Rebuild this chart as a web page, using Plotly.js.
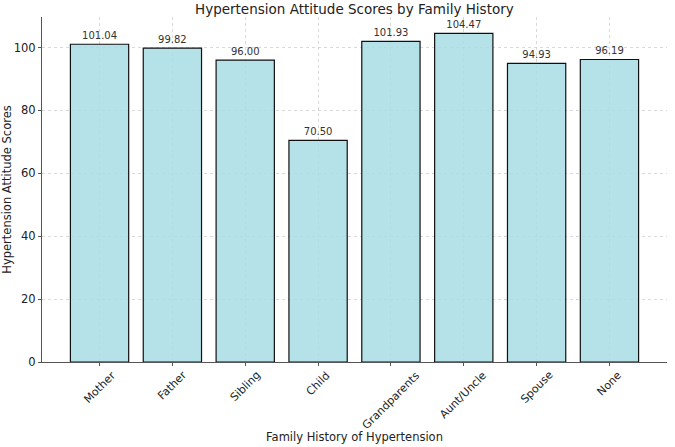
<html>
<head>
    <meta charset="UTF-8">
    <script src="https://cdn.plot.ly/plotly-3.0.1.min.js"></script>
    <style>
        body { margin: 0; background: white; }
        #plot { width: 675px; height: 447px; }
    </style>
</head>
<body>
    <div id="plot"></div>
    <script>
        // family history categories and mean attitude scores
        const categories = ['Mother', 'Father', 'Sibling', 'Child', 'Grandparents', 'Aunt/Uncle', 'Spouse', 'None'];
        const scores = [101.04, 99.82, 96.00, 70.50, 101.93, 104.47, 94.93, 96.19];
        const yTicks = [0, 20, 40, 60, 80, 100];

        const idx = categories.map(function (c, i) { return i; });

        const bars = {
            x: idx,
            y: scores,
            type: 'bar',
            width: 0.8,
            marker: {
                color: 'rgba(168,221,228,0.85)',
                line: { color: '#111', width: 1.2 }
            },
            text: scores.map(function (v) { return v.toFixed(2); }),
            textposition: 'outside',
            textfont: { family: 'DejaVu Sans', size: 10, color: '#333' },
            cliponaxis: false,
            hoverinfo: 'none'
        };

        // rotated category labels; plotly anchors the rotated box, so top = just under the axis
        const tickLabels = categories.map(function (c, i) {
            return {
                x: i, y: 0, xref: 'x', yref: 'y',
                text: c, showarrow: false,
                textangle: -45,
                xanchor: 'center', yanchor: 'top',
                yshift: -4,
                font: { family: 'DejaVu Sans', size: 11, color: '#222' }
            };
        });

        const layout = {
            width: 675,
            height: 447,
            margin: { l: 42, r: 8, t: 17, b: 85 },
            paper_bgcolor: 'white',
            plot_bgcolor: 'white',
            font: { family: 'DejaVu Sans', color: '#222' },
            showlegend: false,
            title: {
                text: 'Hypertension Attitude Scores by Family History',
                font: { family: 'DejaVu Sans', size: 13.5, color: '#222' },
                x: 0.525, xanchor: 'center',
                y: 0.98, yanchor: 'middle'
            },
            xaxis: {
                range: [-0.79, 7.79],
                tickvals: idx,
                showticklabels: false,
                ticks: 'outside', ticklen: 3, tickcolor: '#555',
                showgrid: true, gridcolor: '#cfcfcf', griddash: 'dot', gridwidth: 0.8,
                showline: true, linecolor: '#555', linewidth: 1,
                zeroline: false,
                title: {
                    text: 'Family History of Hypertension',
                    font: { family: 'DejaVu Sans', size: 11.5, color: '#222' },
                    standoff: 67
                }
            },
            yaxis: {
                range: [0, 109.7],
                tickvals: yTicks,
                ticks: 'outside', ticklen: 3, tickcolor: '#555',
                tickfont: { family: 'DejaVu Sans', size: 11.5, color: '#222' },
                showgrid: true, gridcolor: '#cfcfcf', griddash: 'dot', gridwidth: 0.8,
                showline: true, linecolor: '#555', linewidth: 1,
                zeroline: false,
                title: {
                    text: 'Hypertension Attitude Scores',
                    font: { family: 'DejaVu Sans', size: 11.5, color: '#222' },
                    standoff: 5
                }
            },
            annotations: tickLabels
        };

        Plotly.newPlot('plot', [bars], layout, { staticPlot: true });
    </script>
</body>
</html>
